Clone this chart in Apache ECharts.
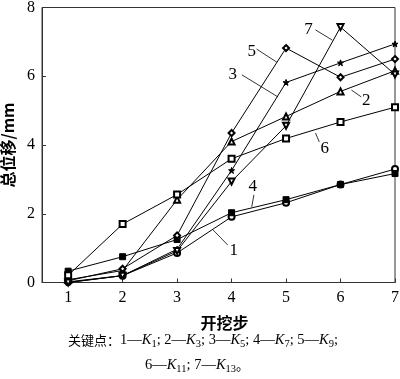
<!DOCTYPE html>
<html><head><meta charset="utf-8">
<script src="https://cdn.jsdelivr.net/npm/echarts@6/dist/echarts.min.js"></script>
<style>html,body{margin:0;padding:0;background:#fff}#c{width:400px;height:379px}</style>
</head><body><div id="c"></div>
<script>
const steps = [1, 2, 3, 4, 5, 6, 7];
const yTicks = [0, 2, 4, 6, 8];
const s1 = [0.02, 0.20, 0.86, 1.91, 2.32, 2.85, 3.30];
const s2 = [0.08, 0.35, 2.41, 4.10, 4.83, 5.56, 6.16];
const s3 = [0.00, 0.20, 0.97, 3.26, 5.82, 6.39, 6.94];
const s4 = [0.33, 0.75, 1.25, 2.03, 2.41, 2.85, 3.17];
const s5 = [0.05, 0.40, 1.37, 4.35, 6.82, 5.97, 6.50];
const s6 = [0.21, 1.70, 2.56, 3.60, 4.19, 4.67, 5.10];
const s7 = [0.00, 0.20, 0.92, 2.94, 4.56, 7.43, 6.05];
const seriesNames = ['1', '2', '3', '4', '5', '6', '7'];

// annotation labels with leader lines (data coordinates)
const notes = [
  {t: '7', at: [5.41, 7.37], from: [5.54, 7.35], to: [5.85, 7.05]},
  {t: '5', at: [4.37, 6.73], from: [4.46, 6.79], to: [4.83, 6.41]},
  {t: '3', at: [4.02, 6.04], from: [4.19, 6.04], to: [4.85, 5.40]},
  {t: '2', at: [6.47, 5.28], from: [6.38, 5.40], to: [6.20, 5.60]},
  {t: '6', at: [5.71, 3.91], from: [5.61, 4.09], to: [5.54, 4.35]},
  {t: '4', at: [4.39, 2.78], from: [4.41, 2.55], to: [4.37, 2.20]},
  {t: '1', at: [4.04, 0.92], from: [3.93, 1.09], to: [3.66, 1.53]}
];

const star = 'path://M0,-10 L2.35,-3.24 L9.51,-3.09 L3.8,1.24 L5.88,8.09 L0,4 L-5.88,8.09 L-3.8,1.24 L-9.51,-3.09 L-2.35,-3.24 Z';
const marks = [
  {sym: 'emptyCircle', size: 6, rot: 0},
  {sym: 'emptyTriangle', size: 6, rot: 0},
  {sym: star, size: 6, rot: 0},
  {sym: 'rect', size: 6, rot: 0},
  {sym: 'emptyDiamond', size: 6, rot: 0},
  {sym: 'emptyRect', size: 6, rot: 0},
  {sym: 'emptyTriangle', size: 6, rot: 180}
];
const all = [s1, s2, s3, s4, s5, s6, s7];

const serif = '"Liberation Serif", "Times New Roman", serif';
const cjk = '"Noto Sans CJK SC", sans-serif';

const chart = echarts.init(document.getElementById('c'), null, {renderer: 'canvas'});
const series = all.map((vals, i) => ({
  name: seriesNames[i],
  type: 'line',
  data: steps.map((x, j) => [x, vals[j]]),
  symbol: marks[i].sym,
  symbolSize: marks[i].size,
  symbolRotate: marks[i].rot,
  showAllSymbol: true,
  lineStyle: {color: '#000', width: 1},
  itemStyle: {color: '#000', borderColor: '#000', borderWidth: 1},
  emphasis: {disabled: true},
  animation: false
}));

chart.setOption({
  animation: false,
  grid: {left: 42, right: 5, top: 7.5, bottom: 96.5, show: true, borderColor: '#333', borderWidth: 1, containLabel: false, outerBoundsMode: 'none'},
  xAxis: {
    type: 'value', min: 0.52, max: 7,
    axisLine: {lineStyle: {color: '#333', width: 1}},
    axisTick: {show: true, inside: true, length: 4, customValues: steps, lineStyle: {color: '#333'}},
    axisLabel: {customValues: steps, color: '#000', fontFamily: serif, fontSize: 16, margin: 7},
    splitLine: {show: false},
    name: '开挖步', nameLocation: 'middle', nameGap: 32,
    nameTextStyle: {fontFamily: cjk, fontWeight: 'bold', fontSize: 16, color: '#000', padding: [0, 0, 0, 12]}
  },
  yAxis: {
    type: 'value', min: 0, max: 8, interval: 2,
    axisLine: {show: true, lineStyle: {color: '#333', width: 1}},
    axisTick: {show: true, inside: true, length: 4, lineStyle: {color: '#333'}},
    axisLabel: {customValues: yTicks, color: '#000', fontFamily: serif, fontSize: 16, margin: 7},
    splitLine: {show: false},
    name: '总位移/mm', nameLocation: 'middle', nameGap: 25, nameRotate: 90,
    nameTextStyle: {fontFamily: cjk + ',' + serif, fontWeight: 'bold', fontSize: 16, color: '#000'}
  },
  series: series
});

const g = [];
notes.forEach(n => {
  const p = chart.convertToPixel({gridIndex: 0}, n.at);
  const a = chart.convertToPixel({gridIndex: 0}, n.from);
  const b = chart.convertToPixel({gridIndex: 0}, n.to);
  g.push({type: 'line', shape: {x1: a[0], y1: a[1], x2: b[0], y2: b[1]}, style: {stroke: '#000', lineWidth: 0.8}, silent: true});
  g.push({type: 'text', x: p[0], y: p[1], style: {text: n.t, fontFamily: serif, fontSize: 17, fill: '#000', align: 'center', verticalAlign: 'middle'}, silent: true});
});
const rich = {
  c: {fontFamily: cjk, fontSize: 13, color: '#333'},
  n: {fontFamily: serif, fontSize: 14.5, color: '#222'},
  k: {fontFamily: serif, fontSize: 14.5, fontStyle: 'italic', color: '#222'},
  s: {fontFamily: serif, fontSize: 10.5, color: '#222', padding: [8, 0, 0, 0]}
};
g.push({type: 'text', x: 203, y: 340, style: {
  text: '{c|关键点：}{n|1—}{k|K}{s|1}{n|; 2—}{k|K}{s|3}{n|; 3—}{k|K}{s|5}{n|; 4—}{k|K}{s|7}{n|; 5—}{k|K}{s|9}{n|;}',
  rich: rich, align: 'center', verticalAlign: 'middle'}, silent: true});
g.push({type: 'text', x: 197, y: 365, style: {
  text: '{n|6—}{k|K}{s|11}{n|; 7—}{k|K}{s|13}{c|。}',
  rich: rich, align: 'center', verticalAlign: 'middle'}, silent: true});
chart.setOption({graphic: g});
</script>
</body></html>
